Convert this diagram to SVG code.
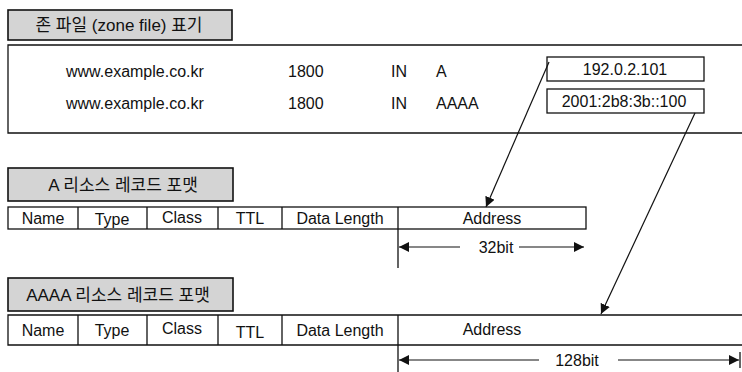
<svg xmlns="http://www.w3.org/2000/svg" width="742" height="372" viewBox="0 0 742 372">
<style>
.t{font-family:"Liberation Sans","Noto Sans CJK KR",Arial,sans-serif;font-size:16px;fill:#111}
.k{font-family:"Liberation Sans","Noto Sans CJK KR",sans-serif;font-size:17px;fill:#111}
.m{text-anchor:middle}
.ln{stroke:#111;stroke-width:1.3;fill:none}
.ttl{fill:#d4d4d4;stroke:#111;stroke-width:1.6}
.box{fill:#fff;stroke:#111;stroke-width:1.3}
.con{stroke:#111;stroke-width:1.2;fill:none}
</style>
<defs>
<marker id="ah" viewBox="0 0 10 10" refX="10" refY="5" markerWidth="10" markerHeight="10" markerUnits="userSpaceOnUse" orient="auto">
<path d="M0,0 L10,5 L0,10 z" fill="#111"/>
</marker>
</defs>
<rect width="742" height="372" fill="#fff"/>

<g id="zone-title">
<rect class="ttl" x="8" y="10" width="224" height="30"/>
<text class="k m" x="119" y="31">존 파일 (zone file) 표기</text>
</g>

<g id="zone-table">
<path class="ln" d="M742,45 H8 V133 H742"/>
<text class="t" x="66" y="77">www.example.co.kr</text>
<text class="t" x="288" y="77">1800</text>
<text class="t" x="391" y="77">IN</text>
<text class="t" x="436" y="77">A</text>
<text class="t" x="66" y="109">www.example.co.kr</text>
<text class="t" x="288" y="109">1800</text>
<text class="t" x="391" y="109">IN</text>
<text class="t" x="436" y="109">AAAA</text>
</g>

<g id="ipv4-box">
<rect class="box" x="547" y="57" width="157" height="24"/>
<text class="t m" x="625" y="75">192.0.2.101</text>
</g>

<g id="ipv6-box">
<rect class="box" x="547" y="89" width="157" height="24"/>
<text class="t m" x="624" y="107">2001:2b8:3b::100</text>
</g>

<g id="a-title">
<rect class="ttl" x="8" y="168" width="225" height="33"/>
<text class="k m" x="123" y="191">A 리소스 레코드 포맷</text>
</g>

<g id="a-format">
<rect class="box" x="8" y="207" width="578" height="22"/>
<path class="ln" d="M78,207 V229 M147,207 V229 M218,207 V229 M282,207 V229 M398,207 V268"/>
<text class="t m" x="43" y="224">Name</text>
<text class="t m" x="112" y="225">Type</text>
<text class="t m" x="182" y="223">Class</text>
<text class="t m" x="250" y="224">TTL</text>
<text class="t m" x="340" y="224">Data Length</text>
<text class="t m" x="492" y="224">Address</text>
<text class="t m" x="496" y="253">32bit</text>
</g>

<g id="aaaa-title">
<rect class="ttl" x="8" y="278" width="225" height="33"/>
<text class="k m" x="118" y="301">AAAA 리소스 레코드 포맷</text>
</g>

<g id="aaaa-format">
<path class="ln" d="M742,315 H8 V345 H742"/>
<path class="ln" d="M78,315 V345 M147,315 V345 M218,315 V345 M282,315 V345 M398,315 V372"/>
<text class="t m" x="43" y="336">Name</text>
<text class="t m" x="112" y="336">Type</text>
<text class="t m" x="182" y="334">Class</text>
<text class="t m" x="250" y="338">TTL</text>
<text class="t m" x="340" y="336">Data Length</text>
<text class="t m" x="492" y="335">Address</text>
<text class="t m" x="577" y="366">128bit</text>
<path class="ln" d="M740,352 V368"/>
</g>

<g id="connectors">
<line class="con" x1="549" y1="62" x2="486" y2="207" marker-end="url(#ah)"/>
<line class="con" x1="695" y1="113" x2="601" y2="314" marker-end="url(#ah)"/>
<line class="con" x1="460" y1="247" x2="399" y2="247" marker-end="url(#ah)"/>
<line class="con" x1="519" y1="247" x2="584" y2="247" marker-end="url(#ah)"/>
<line class="con" x1="539" y1="360" x2="399" y2="360" marker-end="url(#ah)"/>
<line class="con" x1="618" y1="360" x2="739" y2="360" marker-end="url(#ah)"/>
</g>
</svg>
